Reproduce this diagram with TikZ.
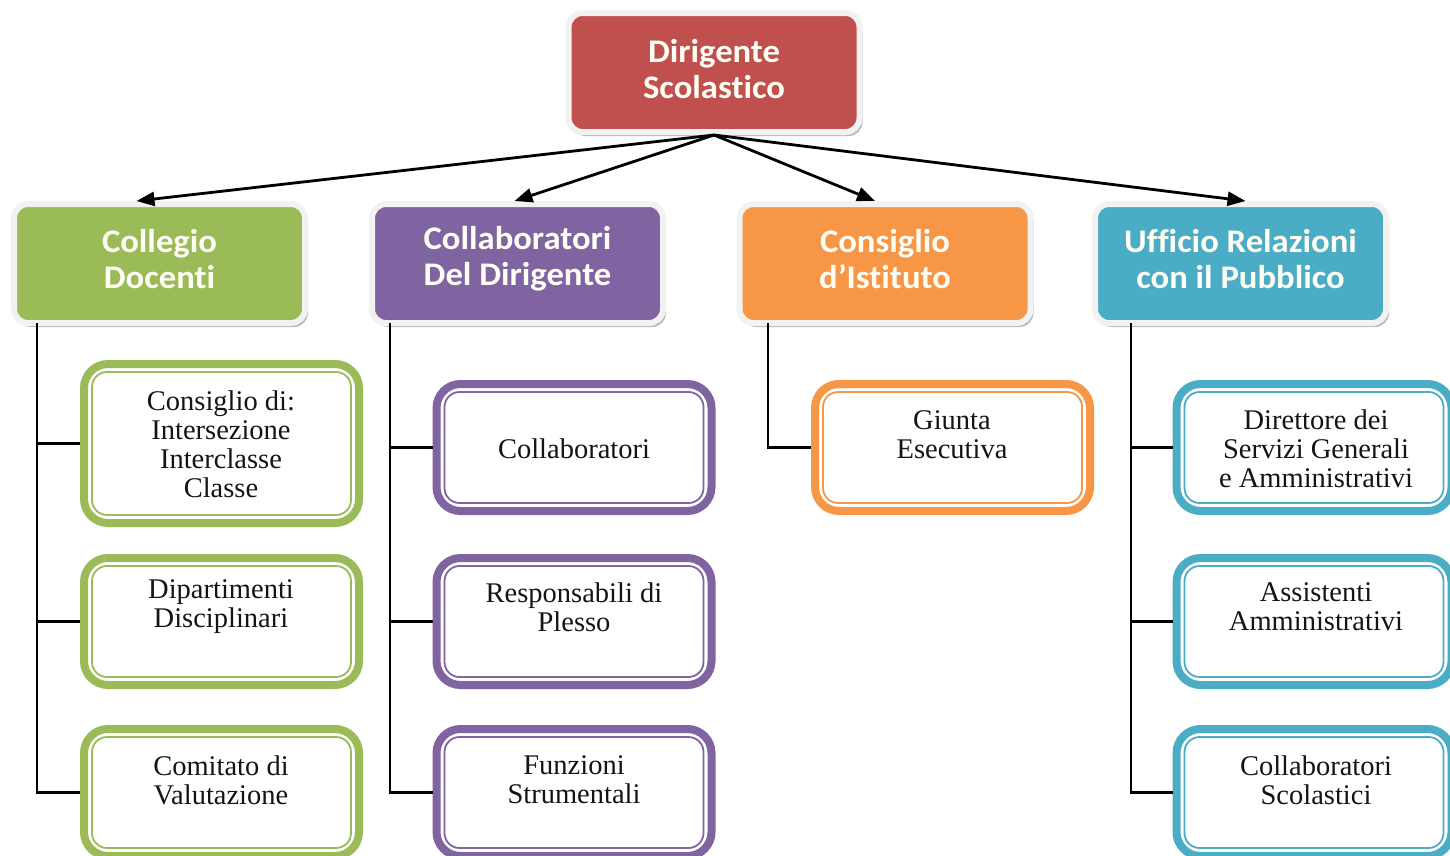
\documentclass[tikz,border=0pt]{standalone}
\usepackage{fontspec}
\setmainfont{Liberation Serif}
\newfontfamily\hdrfont{Carlito}[BoldFont=* Bold, Ligatures={NoCommon}, FakeStretch=1.05]
\usetikzlibrary{shadows,arrows.meta}
\definecolor{cRed}{HTML}{C0504D}
\definecolor{cGreen}{HTML}{9BBB59}
\definecolor{cPurple}{HTML}{8064A2}
\definecolor{cOrange}{HTML}{F79646}
\definecolor{cBlue}{HTML}{4BACC6}
\newcommand\dframe[2]{\draw[#2, line width=1.8pt, rounded corners=15pt]
  ([shift={(12,12)}]#1.north west) rectangle ([shift={(-12,-12)}]#1.south east);}
\tikzset{
  head/.style={fill=#1, draw=white!90!gray, line width=6pt, rounded corners=14pt,
    minimum width=291pt, minimum height=119pt,
    drop shadow={shadow xshift=3pt, shadow yshift=-4pt, fill=black!50, opacity=.55}},
  headtxt/.style={text=white!96!yellow, font=\hdrfont\bfseries\fontsize{33}{36}\selectfont, align=center},
  sub/.style={draw=#1, fill=white, line width=8pt, rounded corners=24pt,
    minimum width=275pt, minimum height=127pt},
  subtxt/.style={text=black!92, font=\fontsize{28.5}{29}\selectfont, align=center},
  arr/.style={line width=2.8pt, -{Triangle[length=18pt,width=14pt]}},
  tie/.style={line width=2.2pt, black}
}
\begin{document}
\begin{tikzpicture}[x=1pt,y=-1pt]
\fill[white] (0,0) rectangle (1450,855);
\useasboundingbox (0,0) rectangle (1450,855);
\clip (0,0) rectangle (1450,855);

% top
\node[head=cRed] (dir) at (714,72.5) {};
\node[headtxt] (tdir) at (714,69) {Dirigente\\Scolastico};

% second row
\node[head=cGreen] (cd) at (159.5,263.5) {};
\node[headtxt] (tcd) at (159.5,259) {Collegio\\Docenti};
\node[head=cPurple] (cdd) at (517.5,263.5) {};
\node[headtxt] (tcdd) at (517.5,259) {Collaboratori\\Del Dirigente};
\node[head=cOrange] (ci) at (885,263.5) {};
\node[headtxt] (tci) at (885,259) {Consiglio\\d’Istituto};
\node[head=cBlue] (urp) at (1240.5,263.5) {};
\node[headtxt] (turp) at (1240.5,259) {Ufficio Relazioni\\con il Pubblico};

% arrows
\draw[arr] (dir.south) -- ([xshift=-23pt]cd.north);
\draw[arr] (dir.south) -- ([xshift=-3pt]cdd.north);
\draw[arr] (dir.south) -- ([xshift=-10pt]ci.north);
\draw[arr] (dir.south) -- ([xshift=5pt]urp.north);

% children boxes
\node[sub=cGreen, minimum height=159pt] (g1) at (221.5,443.5) {};
\node[sub=cGreen] (g2) at (221.5,621.5) {};
\node[sub=cGreen] (g3) at (221.5,792.5) {};
\node[sub=cPurple] (p1) at (574,447.5) {};
\node[sub=cPurple] (p2) at (574,621.5) {};
\node[sub=cPurple] (p3) at (574,792.5) {};
\node[sub=cOrange] (o1) at (952.5,447.5) {};
\node[sub=cBlue] (b1) at (1314,447.5) {};
\node[sub=cBlue] (b2) at (1314,621.5) {};
\node[sub=cBlue] (b3) at (1314,792.5) {};
\dframe{g1}{cGreen}\dframe{g2}{cGreen}\dframe{g3}{cGreen}
\dframe{p1}{cPurple}\dframe{p2}{cPurple}\dframe{p3}{cPurple}
\dframe{o1}{cOrange}
\dframe{b1}{cBlue}\dframe{b2}{cBlue}\dframe{b3}{cBlue}

% children texts
\node[subtxt] (tg1) at (221,444) {Consiglio di:\\Intersezione\\Interclasse\\Classe};
\node[subtxt] (tg2) at (221,607) {Dipartimenti\\Disciplinari};
\node[subtxt] (tg3) at (221,780) {Comitato di\\Valutazione};
\node[subtxt] (tp1) at (574,449) {Collaboratori};
\node[subtxt] (tp2) at (574,607) {Responsabili di\\Plesso};
\node[subtxt] (tp3) at (574,780) {Funzioni\\Strumentali};
\node[subtxt] (to1) at (952,435) {Giunta\\Esecutiva};
\node[subtxt] (tb1) at (1316,449) {Direttore dei\\Servizi Generali\\e Amministrativi};
\node[subtxt] (tb2) at (1316,607) {Assistenti\\Amministrativi};
\node[subtxt] (tb3) at (1316,780) {Collaboratori\\Scolastici};

% connectors
\coordinate (gtop) at (37,323);
\coordinate (ptop) at (390,323);
\coordinate (otop) at (768,323);
\coordinate (btop) at (1131,323);
\draw[tie] (gtop) |- (g3.west);
\draw[tie] (g1.west) -- (g1.west -| gtop);
\draw[tie] (g2.west) -- (g2.west -| gtop);
\draw[tie] (ptop) |- (p3.west);
\draw[tie] (p1.west) -- (p1.west -| ptop);
\draw[tie] (p2.west) -- (p2.west -| ptop);
\draw[tie] (otop) |- (o1.west);
\draw[tie] (btop) |- (b3.west);
\draw[tie] (b1.west) -- (b1.west -| btop);
\draw[tie] (b2.west) -- (b2.west -| btop);
\end{tikzpicture}
\end{document}
